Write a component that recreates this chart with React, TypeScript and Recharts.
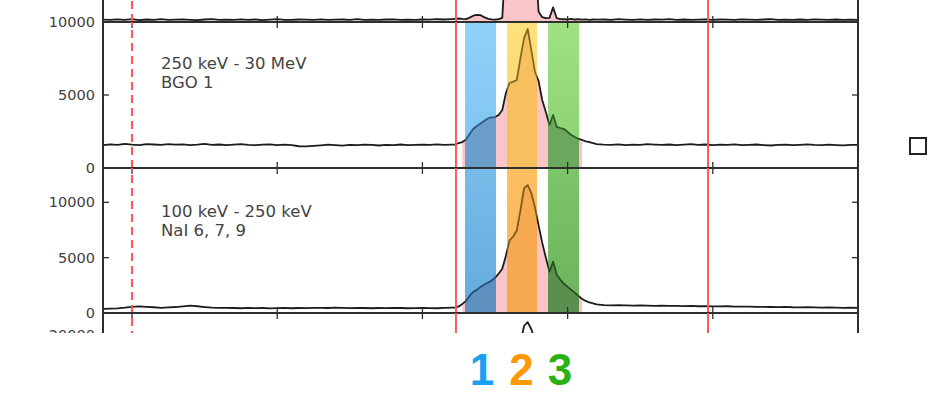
import {
  Area,
  ComposedChart,
  Line,
  ReferenceArea,
  ReferenceLine,
  XAxis,
  YAxis,
} from 'recharts'

// time grid (s): 0.5 s bins off-pulse, 0.25 s bins across the burst
const times = [
  -12, -11.5, -11, -10.5, -10, -9.5, -9, -8.5, -8, -7.5,
  -7, -6.5, -6, -5.5, -5, -4.5, -4, -3.5, -3, -2.5,
  -2, -1.5, -1, -0.5, 0, 0.5, 1, 1.5, 2, 2.5,
  3, 3.5, 4, 4.5, 5, 5.5, 6, 6.5, 7, 7.5,
  8, 8.5, 9, 9.5, 10, 10.5, 11, 11.5, 12,
  12.25, 12.5, 12.75, 13, 13.25, 13.5, 13.75, 14, 14.25, 14.5,
  14.75, 15, 15.25, 15.5, 15.75, 16, 16.25, 16.5, 16.75, 17,
  17.25, 17.5, 17.75, 18, 18.25, 18.5, 18.75, 19, 19.25, 19.5,
  19.75, 20, 20.25, 20.5, 20.75, 21, 21.25, 21.5, 21.75, 22,
  22.5, 23, 23.5, 24, 24.5, 25, 25.5, 26, 26.5, 27,
  27.5, 28, 28.5, 29, 29.5, 30, 30.5, 31, 31.5, 32,
  32.5, 33, 33.5, 34, 34.5, 35, 35.5, 36, 36.5, 37,
  37.5, 38, 38.5, 39, 39.5, 40,
]

// counts per bin, one value per entry of `times`
const topCounts = [
  160, 140, 180, 150, 200, 130, 170, 150, 190, 140,
  160, 180, 150, 130, 170, 200, 150, 160, 140, 180,
  150, 170, 130, 160, 190, 150, 140, 170, 160, 150,
  180, 140, 160, 170, 150, 190, 140, 160, 150, 170,
  180, 150, 160, 140, 170, 160, 190, 170, 200,
  220, 240, 210, 200, 300, 430, 490, 470, 330, 230,
  180, 160, 200, 280, 4800, 7200, 8000, 8300, 9500, 10500,
  11000, 9800, 5000, 700, 330, 270, 280, 1000, 260, 200,
  190, 180, 210, 170, 190, 160, 180, 150, 170, 160,
  170, 150, 190, 160, 140, 180, 150, 170, 160, 190,
  150, 170, 140, 160, 180, 150, 170, 160, 140, 180,
  160, 150, 170, 190, 150, 160, 140, 170, 150, 180,
  160, 150, 170, 140, 160, 150,
]

const bgoCounts = [
  1560, 1620, 1590, 1650, 1600, 1570, 1630, 1610, 1580, 1640,
  1600, 1620, 1570, 1600, 1650, 1590, 1610, 1560, 1600, 1630,
  1580, 1560, 1600, 1620, 1570, 1600, 1560, 1490, 1480, 1510,
  1550, 1600, 1570, 1530, 1590, 1560, 1600, 1580, 1540, 1590,
  1570, 1610, 1560, 1590, 1600, 1580, 1620, 1590, 1600,
  1600, 1710, 1780, 1950, 2330, 2670, 2880, 3050, 3220, 3390,
  3460, 3490, 3630, 3970, 5140, 5820, 5920, 6030, 7530, 8900,
  9520, 8080, 6580, 5960, 4660, 3840, 2950, 3630, 2810, 2740,
  2670, 2470, 2260, 2120, 1990, 1920, 1820, 1780, 1710, 1640,
  1600, 1580, 1620, 1570, 1600, 1590, 1630, 1600, 1580, 1610,
  1560, 1600, 1640, 1590, 1610, 1570, 1600, 1580, 1620, 1560,
  1590, 1610, 1570, 1540, 1590, 1600, 1560, 1590, 1620, 1580,
  1560, 1600, 1570, 1550, 1590, 1580,
]

const naiCounts = [
  380, 400, 420, 480, 560, 590, 560, 520, 470, 500,
  540, 600, 660, 610, 540, 480, 460, 470, 450, 430,
  460, 440, 450, 420, 440, 460, 430, 450, 440, 460,
  470, 450, 480, 460, 440, 470, 450, 430, 450, 440,
  460, 450, 430, 440, 450, 440, 430, 460, 480,
  480, 590, 820, 1090, 1550, 1910, 2090, 2360, 2550, 2730,
  2910, 3180, 3550, 4000, 5180, 6550, 6910, 7450, 9270, 11270,
  11550, 10820, 9550, 7910, 6360, 5000, 3730, 4640, 3450, 3000,
  2640, 2360, 2090, 1820, 1550, 1270, 1090, 950, 860, 770,
  720, 690, 700, 680, 660, 690, 670, 650, 660, 640,
  650, 620, 640, 610, 620, 600, 590, 610, 580, 570,
  580, 550, 560, 540, 530, 550, 520, 510, 520, 500,
  490, 500, 480, 470, 480, 460,
]

// next panel down: only the brightest bins reach into view
const lleTimes = [-12, 12, 14, 15.5, 16, 16.5, 16.75, 17, 17.25, 17.5, 17.75, 18, 18.5, 19, 20, 22, 40]
const lleCounts = [3000, 3200, 6000, 9000, 12000, 14000, 18500, 21600, 22300, 21000, 19000, 15000, 10000, 8000, 6000, 4000, 3000]

// selected intervals
const bandLabels = ['1', '2', '3']
const bandStart = [12.93, 15.83, 18.65]
const bandEnd = [15.07, 17.89, 20.79]

// shaded emission window and marker lines
const burstStart = 12.75
const burstEnd = 21
const intervalLines = [12.31, 29.67]
const bkgLine = -10

const xTicks = [-10, 0, 10, 20, 30]
const X_DOMAIN: [number, number] = [-12, 40]

const W = 944
const PLOT_LEFT = 103
const PLOT_RIGHT = 858
const PAD = 12
const TICK_LEN = 6
const AXIS = '#2e2e2e'
const TRACE = '#1c1c1c'
const RED = '#ff5a5a'
const PINK = '#f9c5c9'
const FONT = '"DejaVu Sans", Verdana, sans-serif'
const LABEL_COLORS = ['#1a9ff2', '#fd9800', '#2cb114']
const LABEL_NUDGE = [1.5, -0.5, -3.5]

const rows = times.map((t, i) => {
  const inBurst = t >= burstStart && t <= burstEnd
  return {
    t,
    top: topCounts[i],
    bgo: bgoCounts[i],
    nai: naiCounts[i],
    topIn: inBurst ? topCounts[i] : null,
    bgoIn: inBurst ? bgoCounts[i] : null,
    naiIn: inBurst ? naiCounts[i] : null,
  }
})

const lleRows = lleTimes.map((t, i) => ({ t, lle: lleCounts[i] }))

// hard-edged horizontal stops: `base` outside the bands, colors[i] inside band i
function bandStops(lo: number, hi: number, base: string, colors: string[]) {
  const f = (v: number) => (v - lo) / (hi - lo)
  const out: JSX.Element[] = []
  let pos = 0
  bandStart.forEach((s, i) => {
    const a = f(s)
    const b = f(bandEnd[i])
    out.push(
      <stop key={`g${i}a`} offset={pos} stopColor={base} />,
      <stop key={`g${i}b`} offset={a} stopColor={base} />,
      <stop key={`b${i}a`} offset={a} stopColor={colors[i]} />,
      <stop key={`b${i}b`} offset={b} stopColor={colors[i]} />,
    )
    pos = b
  })
  out.push(
    <stop key="ea" offset={pos} stopColor={base} />,
    <stop key="eb" offset={1} stopColor={base} />,
  )
  return out
}

const rightTick = (p: any) => (
  <line x1={p.x - TICK_LEN} x2={p.x} y1={p.y} y2={p.y} stroke={AXIS} strokeWidth={1.3} />
)
const leftTick = (labels: boolean) => (p: any) => (
  <g>
    {labels && (
      <text x={p.x} y={p.y} dy={5} textAnchor="end" fontSize={14.5} fontFamily={FONT} fill="#404040">
        {p.payload.value}
      </text>
    )}
    <line x1={p.x + 8} x2={p.x + 8 + TICK_LEN} y1={p.y} y2={p.y} stroke={AXIS} strokeWidth={1.3} />
  </g>
)

type PanelProps = {
  id: string
  plotTop: number
  plotHeight: number
  rows: any[]
  valueKey: string
  fillKey?: string
  domain: [number, number]
  yTicks: number[]
  labels?: boolean
  overflow?: boolean
  bandFill?: [string, string][]
  bandFloor?: number
  underFill?: string[]
  traceInBands?: string[]
}

function Panel(p: PanelProps) {
  const [lo, hi] = p.domain
  // inward tick length expressed in counts for this panel
  const tickSpan = ((hi - lo) * TICK_LEN) / p.plotHeight

  return (
    <div style={{ position: 'absolute', left: 0, top: p.plotTop - PAD }}>
      <ComposedChart
        width={W}
        height={p.plotHeight + 2 * PAD}
        data={p.rows}
        margin={{ top: PAD, right: 0, bottom: PAD, left: 0 }}
      >
        <defs>
          {p.bandFill?.map(([a, b], i) => (
            <linearGradient key={i} id={`${p.id}-band${i}`} x1="0" y1="0" x2="0" y2="1">
              <stop offset="0" stopColor={a} />
              <stop offset="1" stopColor={b} />
            </linearGradient>
          ))}
          {p.underFill && (
            <linearGradient id={`${p.id}-under`} x1="0" y1="0" x2="1" y2="0">
              {bandStops(burstStart, burstEnd, PINK, p.underFill)}
            </linearGradient>
          )}
          {p.traceInBands && (
            <linearGradient id={`${p.id}-trace`} x1="0" y1="0" x2="1" y2="0">
              {bandStops(X_DOMAIN[0], X_DOMAIN[1], TRACE, p.traceInBands)}
            </linearGradient>
          )}
        </defs>

        <XAxis
          xAxisId="b"
          dataKey="t"
          type="number"
          domain={X_DOMAIN}
          ticks={xTicks}
          allowDataOverflow
          height={0}
          tick={false}
          tickLine={false}
          axisLine={false}
        />
        <YAxis
          yAxisId="l"
          type="number"
          domain={p.domain}
          ticks={p.yTicks}
          interval={0}
          allowDataOverflow={p.overflow}
          width={PLOT_LEFT}
          tickSize={0}
          tickMargin={8}
          tickLine={false}
          axisLine={{ stroke: AXIS, strokeWidth: 2 }}
          tick={p.yTicks.length ? leftTick(!!p.labels) : false}
        />
        <YAxis
          yAxisId="r"
          orientation="right"
          type="number"
          domain={p.domain}
          ticks={p.yTicks}
          interval={0}
          allowDataOverflow
          width={W - PLOT_RIGHT}
          tickSize={0}
          tickMargin={0}
          tickLine={false}
          axisLine={{ stroke: AXIS, strokeWidth: 2 }}
          tick={p.yTicks.length ? rightTick : false}
        />

        {p.bandFill &&
          bandStart.map((s, i) => (
            <ReferenceArea
              key={bandLabels[i]}
              xAxisId="b"
              yAxisId="l"
              x1={s}
              x2={bandEnd[i]}
              y1={p.bandFloor ?? lo}
              y2={hi}
              fill={`url(#${p.id}-band${i})`}
              fillOpacity={1}
              stroke="none"
            />
          ))}

        {p.fillKey && (
          <Area
            xAxisId="b"
            yAxisId="l"
            dataKey={p.fillKey}
            type="linear"
            stroke="none"
            fill={p.underFill ? `url(#${p.id}-under)` : PINK}
            fillOpacity={1}
            connectNulls={false}
            dot={false}
            activeDot={false}
            isAnimationActive={false}
          />
        )}

        <Line
          xAxisId="b"
          yAxisId="l"
          dataKey={p.valueKey}
          type="linear"
          stroke={p.traceInBands ? `url(#${p.id}-trace)` : TRACE}
          strokeWidth={1.8}
          strokeLinejoin="round"
          dot={false}
          activeDot={false}
          isAnimationActive={false}
        />

        {/* panel frame, top and bottom, with inward time ticks */}
        <ReferenceLine xAxisId="b" yAxisId="l" y={lo} stroke={AXIS} strokeWidth={2} />
        <ReferenceLine xAxisId="b" yAxisId="l" y={hi} stroke={AXIS} strokeWidth={2} />
        {xTicks.map((t) => (
          <ReferenceLine
            key={`b${t}`}
            xAxisId="b"
            yAxisId="l"
            segment={[{ x: t, y: lo }, { x: t, y: lo + tickSpan }]}
            stroke={AXIS}
            strokeWidth={1.3}
          />
        ))}
        {xTicks.map((t) => (
          <ReferenceLine
            key={`t${t}`}
            xAxisId="b"
            yAxisId="l"
            segment={[{ x: t, y: hi - tickSpan }, { x: t, y: hi }]}
            stroke={AXIS}
            strokeWidth={1.3}
          />
        ))}

        <ReferenceLine xAxisId="b" yAxisId="l" x={bkgLine} stroke={RED} strokeWidth={2.2} strokeDasharray="8 5" />
        {intervalLines.map((x) => (
          <ReferenceLine key={x} xAxisId="b" yAxisId="l" x={x} stroke={RED} strokeWidth={2} />
        ))}
      </ComposedChart>
    </div>
  )
}

const noteStyle: React.CSSProperties = {
  position: 'absolute',
  left: 161,
  fontFamily: FONT,
  fontSize: 16.5,
  lineHeight: '18.5px',
  color: '#444',
  whiteSpace: 'nowrap',
}

export default function App() {
  const span = X_DOMAIN[1] - X_DOMAIN[0]
  const toPx = (t: number) => PLOT_LEFT + ((t - X_DOMAIN[0]) / span) * (PLOT_RIGHT - PLOT_LEFT)

  return (
    <div style={{ position: 'fixed', left: 0, top: 0, width: W, height: 393, background: '#fff', overflow: 'hidden' }}>
      <div style={{ position: 'absolute', left: 0, top: 0, width: W, height: 333, overflow: 'hidden' }}>
        <Panel id="top" plotTop={-124} plotHeight={146} rows={rows} valueKey="top" fillKey="topIn" domain={[0, 10000]} yTicks={[]} overflow />
        <Panel
          id="bgo"
          plotTop={22}
          plotHeight={146}
          rows={rows}
          valueKey="bgo"
          fillKey="bgoIn"
          domain={[0, 10000]}
          yTicks={[0, 5000, 10000]}
          labels
          bandFill={[
            ['#90d2f9', '#7fc2ee'],
            ['#fde27c', '#fcca69'],
            ['#a0e283', '#89cf71'],
          ]}
          underFill={['#6c9ecb', '#f8bf5e', '#6ca75e']}
          traceInBands={['#2a5b85', '#806a25', '#2b5f22']}
        />
        <Panel
          id="nai"
          plotTop={168}
          plotHeight={145}
          rows={rows}
          valueKey="nai"
          fillKey="naiIn"
          domain={[0, 13100]}
          yTicks={[0, 5000, 10000]}
          labels
          bandFloor={250}
          bandFill={[
            ['#77bce9', '#66aadd'],
            ['#fdc063', '#fcad55'],
            ['#7dc56b', '#6bb25c'],
          ]}
          underFill={['#5e90c0', '#f7a94f', '#5b8f4f']}
          traceInBands={['#234f78', '#7a5a1e', '#234f1c']}
        />
        <Panel id="lle" plotTop={313} plotHeight={130} rows={lleRows} valueKey="lle" domain={[0, 24000]} yTicks={[20000]} labels />

        <div style={{ ...noteStyle, top: 55 }}>
          250 keV - 30 MeV
          <br />
          BGO 1
        </div>
        <div style={{ ...noteStyle, top: 203 }}>
          100 keV - 250 keV
          <br />
          NaI 6, 7, 9
        </div>
      </div>

      <div
        style={{
          position: 'absolute',
          left: 909,
          top: 137,
          width: 18,
          height: 18,
          boxSizing: 'border-box',
          border: '2px solid #222',
        }}
      />

      {bandLabels.map((label, i) => (
        <div
          key={label}
          style={{
            position: 'absolute',
            left: toPx((bandStart[i] + bandEnd[i]) / 2) + LABEL_NUDGE[i] - 25,
            top: 345,
            width: 50,
            textAlign: 'center',
            fontFamily: '"Liberation Sans", Arial, sans-serif',
            fontWeight: 700,
            fontSize: 44,
            lineHeight: 'normal',
            color: LABEL_COLORS[i],
          }}
        >
          {label}
        </div>
      ))}
    </div>
  )
}
